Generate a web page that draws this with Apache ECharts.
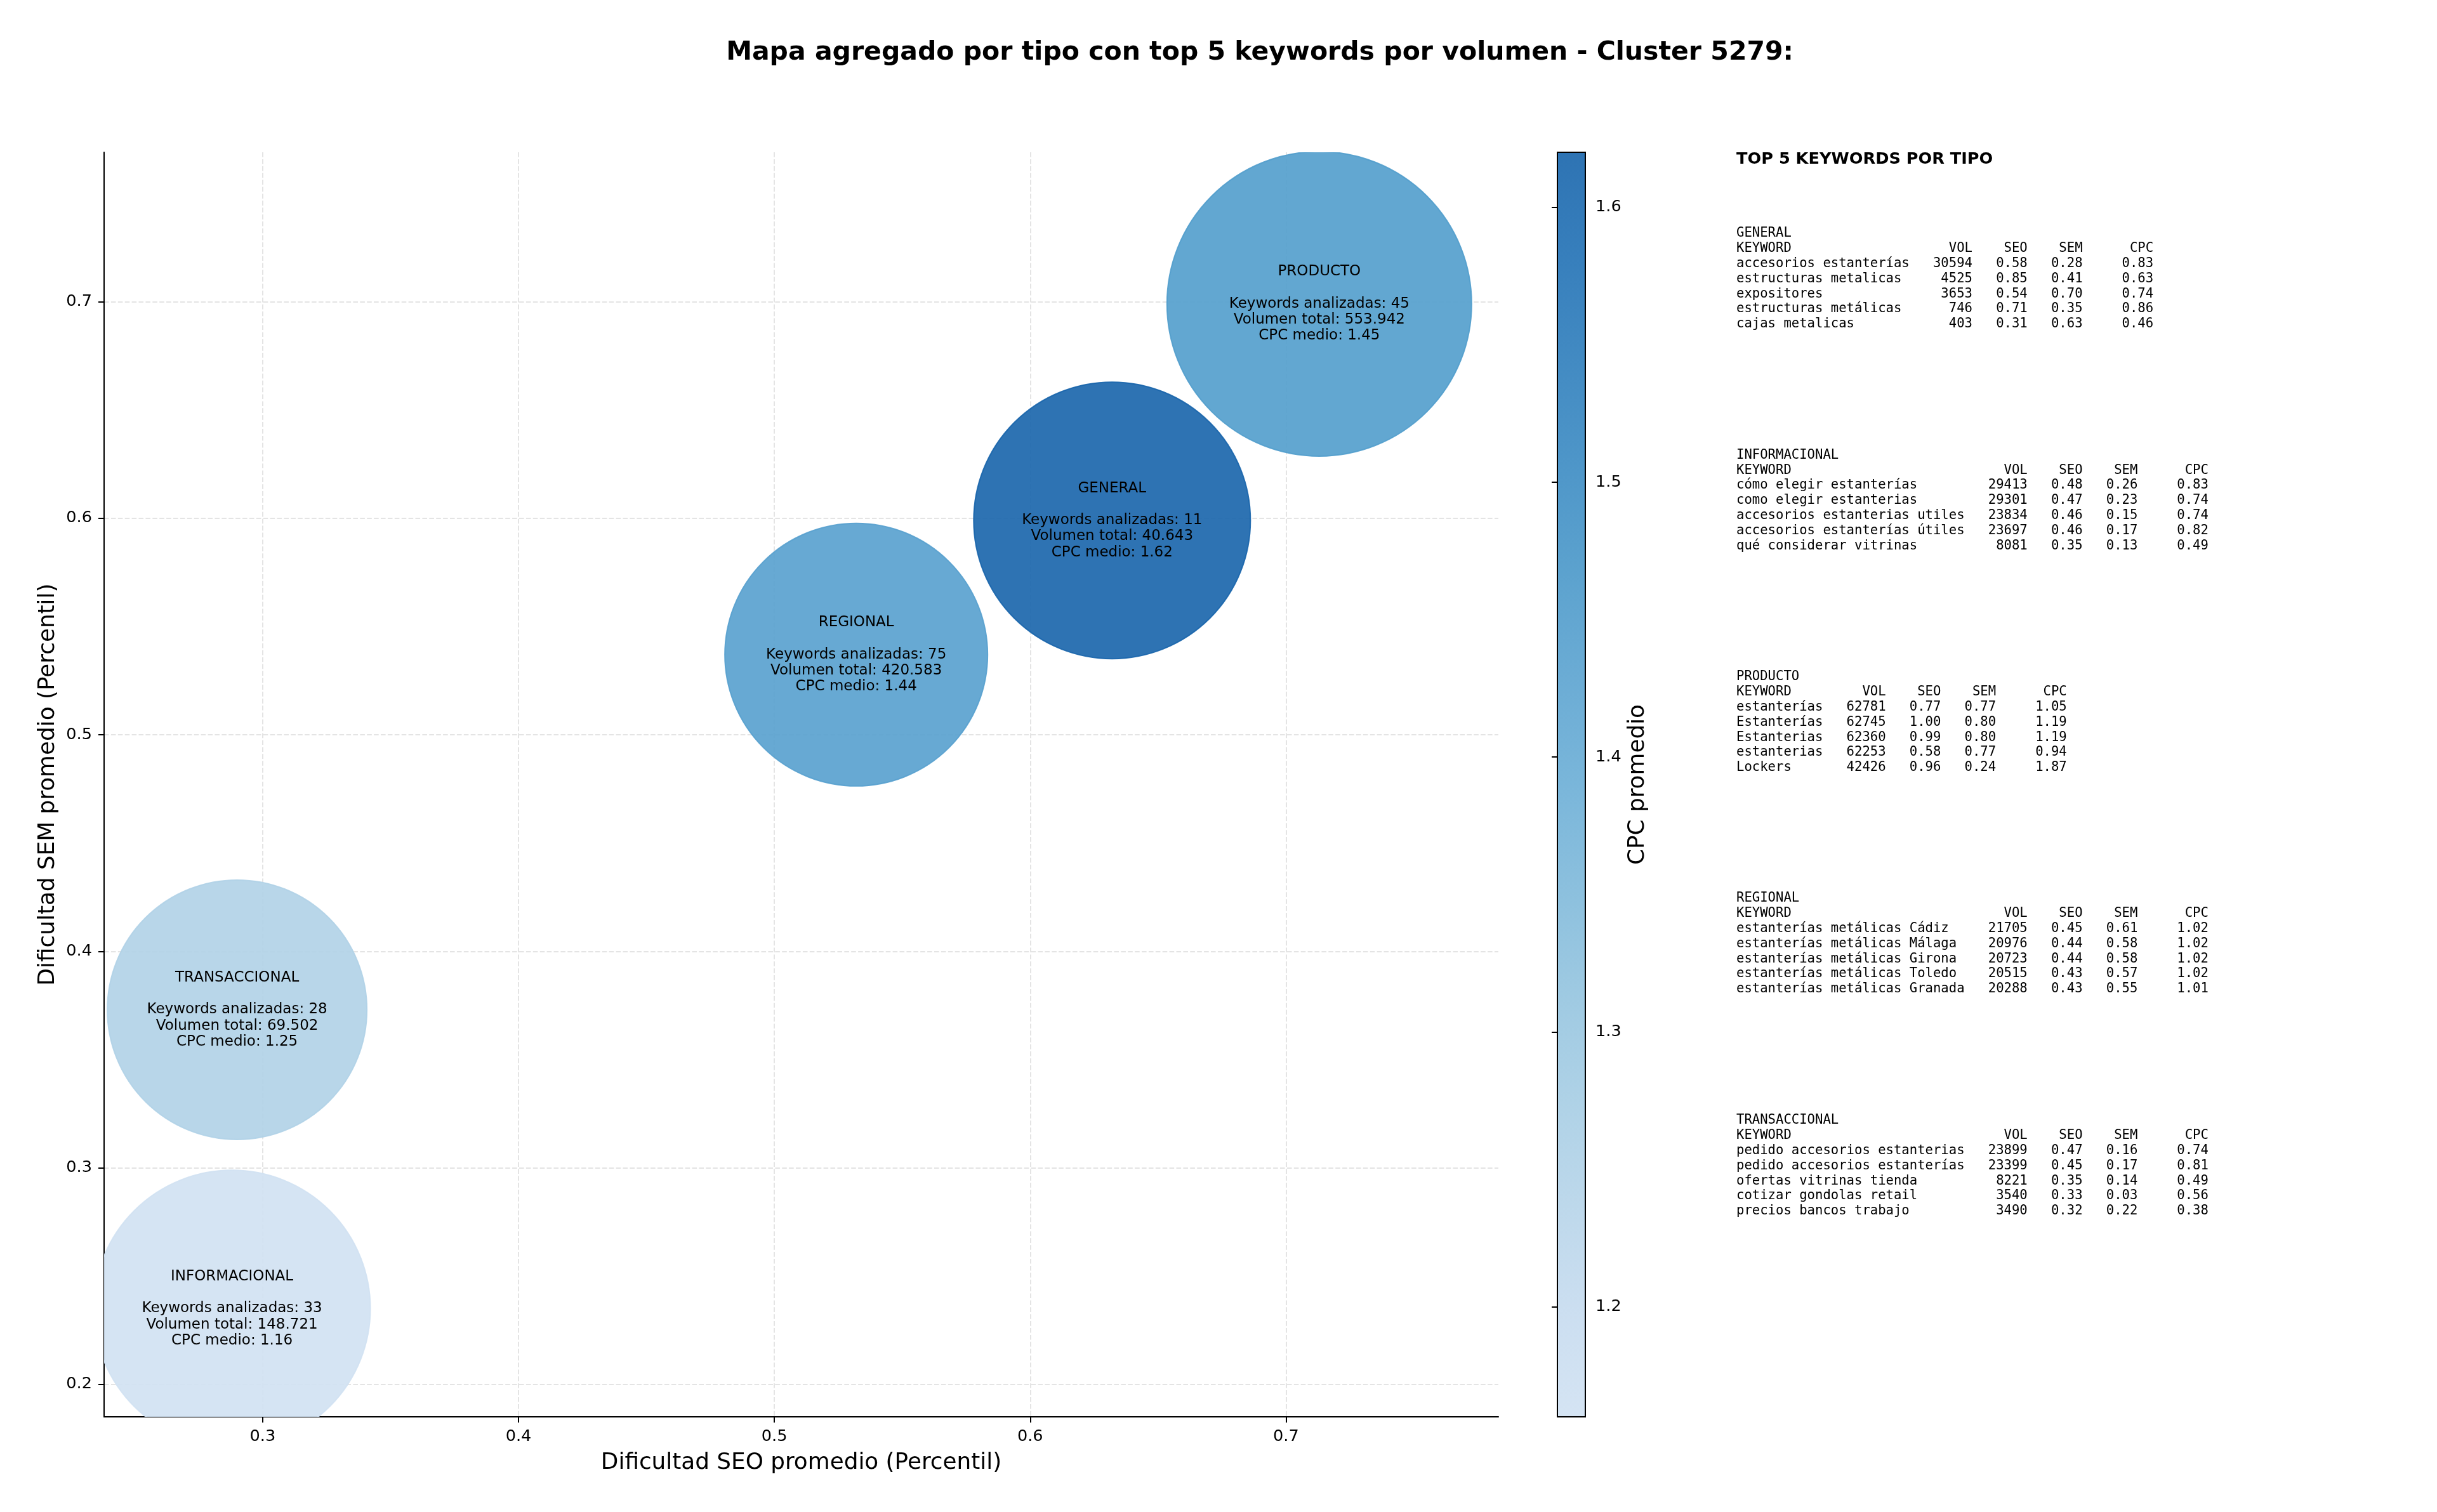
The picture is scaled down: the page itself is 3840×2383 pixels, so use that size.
<!DOCTYPE html>
<html><head><meta charset="utf-8">
<script src="https://cdn.jsdelivr.net/npm/echarts@6/dist/echarts.min.js"></script>
<style>html,body{margin:0;padding:0;background:#fff}#c{width:3840px;height:2383px}</style>
</head><body><div id="c"></div>
<script>
// ---------------- DATA ----------------
const tipos = ['GENERAL', 'INFORMACIONAL', 'PRODUCTO', 'REGIONAL', 'TRANSACCIONAL'];
const seoPromedio = [0.632, 0.288, 0.713, 0.532, 0.290];
const semPromedio = [0.599, 0.235, 0.699, 0.537, 0.373];
const cpcMedio = [1.62, 1.16, 1.45, 1.44, 1.25];
const keywordsAnalizadas = [11, 33, 45, 75, 28];
const volumenTotal = [40643, 148721, 553942, 420583, 69502];

const xTicks = [0.3, 0.4, 0.5, 0.6, 0.7];
const yTicks = [0.2, 0.3, 0.4, 0.5, 0.6, 0.7];
const cpcTicks = [1.2, 1.3, 1.4, 1.5, 1.6];

// top 5 keywords: [keyword, vol, seo, sem, cpc]
const topGeneral = [
  ['accesorios estanterías', 30594, 0.58, 0.28, 0.83],
  ['estructuras metalicas', 4525, 0.85, 0.41, 0.63],
  ['expositores', 3653, 0.54, 0.70, 0.74],
  ['estructuras metálicas', 746, 0.71, 0.35, 0.86],
  ['cajas metalicas', 403, 0.31, 0.63, 0.46]
];
const topInformacional = [
  ['cómo elegir estanterías', 29413, 0.48, 0.26, 0.83],
  ['como elegir estanterias', 29301, 0.47, 0.23, 0.74],
  ['accesorios estanterias utiles', 23834, 0.46, 0.15, 0.74],
  ['accesorios estanterías útiles', 23697, 0.46, 0.17, 0.82],
  ['qué considerar vitrinas', 8081, 0.35, 0.13, 0.49]
];
const topProducto = [
  ['estanterías', 62781, 0.77, 0.77, 1.05],
  ['Estanterías', 62745, 1.00, 0.80, 1.19],
  ['Estanterias', 62360, 0.99, 0.80, 1.19],
  ['estanterias', 62253, 0.58, 0.77, 0.94],
  ['Lockers', 42426, 0.96, 0.24, 1.87]
];
const topRegional = [
  ['estanterías metálicas Cádiz', 21705, 0.45, 0.61, 1.02],
  ['estanterías metálicas Málaga', 20976, 0.44, 0.58, 1.02],
  ['estanterías metálicas Girona', 20723, 0.44, 0.58, 1.02],
  ['estanterías metálicas Toledo', 20515, 0.43, 0.57, 1.02],
  ['estanterías metálicas Granada', 20288, 0.43, 0.55, 1.01]
];
const topTransaccional = [
  ['pedido accesorios estanterias', 23899, 0.47, 0.16, 0.74],
  ['pedido accesorios estanterías', 23399, 0.45, 0.17, 0.81],
  ['ofertas vitrinas tienda', 8221, 0.35, 0.14, 0.49],
  ['cotizar gondolas retail', 3540, 0.33, 0.03, 0.56],
  ['precios bancos trabajo', 3490, 0.32, 0.22, 0.38]
];
const topBlocks = [topGeneral, topInformacional, topProducto, topRegional, topTransaccional];

const titleText = 'Mapa agregado por tipo con top 5 keywords por volumen - Cluster 5279:';

// ---------------- STYLE ----------------
const bubbleRadiusPx = [218, 218, 240, 207, 204.5];
const FONT = 'DejaVu Sans';
const MONO = 'DejaVu Sans Mono';
const bluesTable = [[0,[247,251,255]],[0.125,[222,235,247]],[0.25,[198,219,239]],[0.375,[158,202,225]],
  [0.5,[107,174,214]],[0.625,[66,146,198]],[0.75,[33,113,181]],[0.875,[8,81,156]],[1,[8,48,107]]];
function blues(t) {
  for (let i = 0; i < bluesTable.length - 1; i++) {
    const [t0, c0] = bluesTable[i], [t1, c1] = bluesTable[i + 1];
    if (t <= t1) { const f = (t - t0) / (t1 - t0); return c0.map((v, k) => v + (c1[k] - v) * f); }
  }
  return bluesTable[bluesTable.length - 1][1];
}
const cmapLow = 0.2, cmapHigh = 0.8, fillAlpha = 0.9, nStops = 13;
const cmapColors = Array.from({length: nStops}, (_, i) => {
  const c = blues(cmapLow + (cmapHigh - cmapLow) * i / (nStops - 1)).map(Math.round);
  return `rgba(${c[0]},${c[1]},${c[2]},${fillAlpha})`;
});

const cpcMin = Math.min(...cpcMedio), cpcMax = Math.max(...cpcMedio);
const xMin = Math.min(...seoPromedio) - 0.05, xMax = Math.max(...seoPromedio) + 0.07;
const yMin = Math.min(...semPromedio) - 0.05, yMax = Math.max(...semPromedio) + 0.07;

function fmtThousands(v) { return String(v).replace(/\B(?=(\d{3})+(?!\d))/g, '.'); }
function blockText(name, rows) {
  const w = Math.max(...rows.map(r => r[0].length));
  const lines = [name, 'KEYWORD'.padEnd(w) + 'VOL'.padStart(8) + 'SEO'.padStart(7) + 'SEM'.padStart(7) + 'CPC'.padStart(9)];
  rows.forEach(r => lines.push(r[0].padEnd(w) + String(r[1]).padStart(8) + r[2].toFixed(2).padStart(7) +
    r[3].toFixed(2).padStart(7) + r[4].toFixed(2).padStart(9)));
  return lines.join('\n');
}

const panelX = 2736, panelLineH = 23.8;
const blockFirstLineY = [368, 717.5, 1067, 1416, 1766];

const axisLineStyle = {color: '#000', width: 2};
const labelStyle = {color: '#000', fontSize: 25.6, fontFamily: FONT};
const nameStyle = {color: '#000', fontSize: 35.8, fontFamily: FONT};

const chart = echarts.init(document.getElementById('c'), null, {renderer: 'canvas'});
chart.setOption({
  backgroundColor: '#fff',
  animation: false,
  grid: [
    {left: 164, top: 240, width: 2197, height: 1993, outerBoundsMode: 'none', containLabel: false},
    {left: 2454, top: 240, width: 44, height: 1993, outerBoundsMode: 'none', containLabel: false,
     show: true, z: 10, borderColor: '#000', borderWidth: 2,
     backgroundColor: {type: 'linear', x: 0, y: 1, x2: 0, y2: 0,
       colorStops: cmapColors.map((c, i) => ({offset: i / (nStops - 1), color: c}))}}
  ],
  xAxis: [
    {type: 'value', gridIndex: 0, min: xMin, max: xMax, position: 'bottom',
     name: 'Dificultad SEO promedio (Percentil)', nameLocation: 'middle', nameGap: 55,
     nameTextStyle: nameStyle, nameMoveOverlap: false,
     axisLine: {show: true, lineStyle: axisLineStyle},
     axisTick: {show: true, length: 9, lineStyle: axisLineStyle, customValues: xTicks},
     axisLabel: Object.assign({margin: 18.5, customValues: xTicks, formatter: v => v.toFixed(1)}, labelStyle),
     splitLine: {show: true, lineStyle: {color: '#e4e4e4', width: 2, type: [7.6, 3.3]}}},
    {type: 'value', gridIndex: 1, min: 0, max: 1, show: false}
  ],
  yAxis: [
    {type: 'value', gridIndex: 0, min: yMin, max: yMax, position: 'left',
     name: 'Dificultad SEM promedio (Percentil)', nameLocation: 'middle', nameGap: 70,
     nameTextStyle: nameStyle, nameMoveOverlap: false,
     axisLine: {show: true, lineStyle: axisLineStyle},
     axisTick: {show: true, length: 9, lineStyle: axisLineStyle, customValues: yTicks},
     axisLabel: Object.assign({margin: 19, customValues: yTicks, formatter: v => v.toFixed(1)}, labelStyle),
     splitLine: {show: true, lineStyle: {color: '#e4e4e4', width: 2, type: [7.6, 3.3]}}},
    {type: 'value', gridIndex: 1, min: cpcMin, max: cpcMax, position: 'right',
     name: 'CPC promedio', nameLocation: 'middle', nameGap: 65,
     nameTextStyle: nameStyle, nameMoveOverlap: false,
     axisLine: {show: true, lineStyle: axisLineStyle},
     axisTick: {show: true, inside: true, length: 9, lineStyle: axisLineStyle, customValues: cpcTicks},
     axisLabel: Object.assign({margin: 16, customValues: cpcTicks, formatter: v => v.toFixed(1)}, labelStyle),
     splitLine: {show: false}}
  ],
  visualMap: {type: 'continuous', show: false, min: cpcMin, max: cpcMax, dimension: 3, seriesIndex: 0,
    inRange: {color: cmapColors}},
  series: [{
    type: 'custom', coordinateSystem: 'cartesian2d', xAxisIndex: 0, yAxisIndex: 0, clip: true,
    encode: {x: 0, y: 1},
    data: tipos.map((t, i) => [seoPromedio[i], semPromedio[i], i, cpcMedio[i]]),
    renderItem: function (params, api) {
      const i = api.value(2);
      const p = api.coord([api.value(0), api.value(1)]);
      const color = api.visual('color');
      const txt = tipos[i] + '\n\nKeywords analizadas: ' + keywordsAnalizadas[i] +
        '\nVolumen total: ' + fmtThousands(volumenTotal[i]) + '\nCPC medio: ' + cpcMedio[i].toFixed(2);
      return {type: 'group', children: [
        {type: 'circle', shape: {cx: p[0], cy: p[1], r: bubbleRadiusPx[i]},
         style: {fill: color, stroke: color, lineWidth: 2}},
        {type: 'text', x: p[0], y: p[1],
         style: {text: txt, fill: '#000', fontSize: 23, fontFamily: FONT, lineHeight: 25.3,
                 align: 'center', verticalAlign: 'middle'}}
      ]};
    }
  }],
  graphic: [
    {type: 'text', x: 1985, y: 83, style: {text: titleText, fill: '#000', fontSize: 41, fontWeight: 'bold',
      fontFamily: FONT, align: 'center', verticalAlign: 'middle'}},
    {type: 'text', x: panelX, y: 251, style: {text: 'TOP 5 KEYWORDS POR TIPO', fill: '#000', fontSize: 25.6,
      fontWeight: 'bold', fontFamily: FONT, align: 'left', verticalAlign: 'middle'}}
  ].concat(tipos.map((t, i) => ({
    type: 'text', x: panelX, y: blockFirstLineY[i] - panelLineH / 2,
    style: {text: blockText(t, topBlocks[i]), fill: '#000', fontSize: 20.6, fontFamily: MONO,
      lineHeight: panelLineH, align: 'left', verticalAlign: 'top'}
  })))
});
</script></body></html>
